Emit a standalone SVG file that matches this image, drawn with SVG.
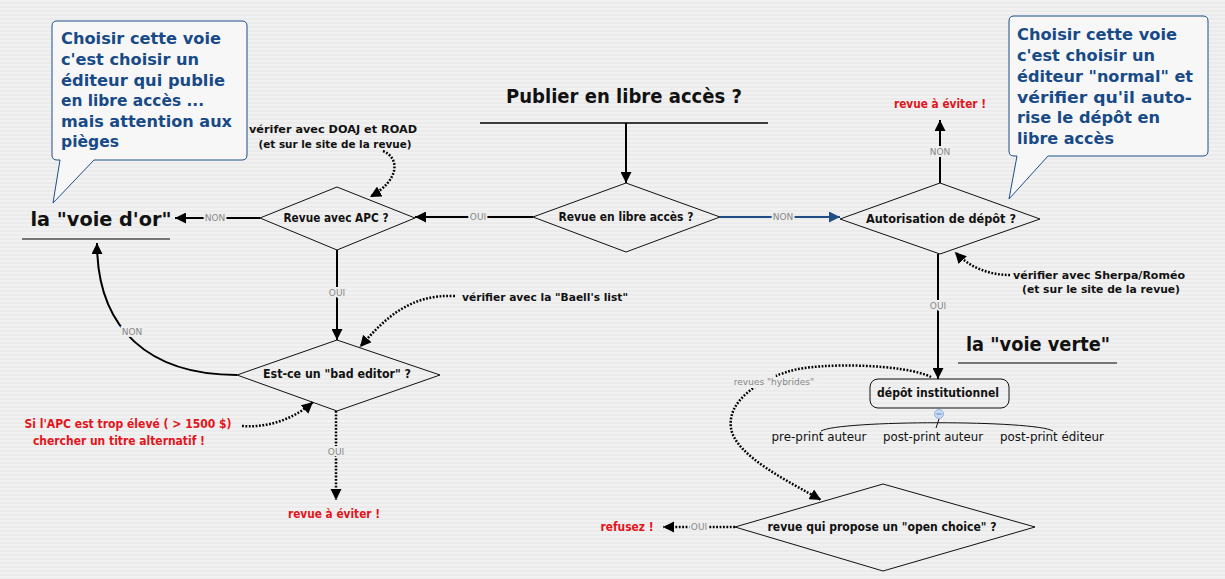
<svg xmlns="http://www.w3.org/2000/svg" width="1225" height="579" viewBox="0 0 1225 579">
<defs>
<pattern id="bg" width="4" height="4" patternUnits="userSpaceOnUse">
<rect width="4" height="4" fill="#f1f1f1"/>
<rect y="2" width="4" height="2" fill="#ebebeb"/>
</pattern>
<marker id="ah" viewBox="0 0 10 10" refX="10" refY="5" markerWidth="5.5" markerHeight="5.5" orient="auto" markerUnits="strokeWidth">
<path d="M0,0 L10,5 L0,10 Z" fill="#000"/>
</marker>
<marker id="ahb" viewBox="0 0 10 10" refX="10" refY="5" markerWidth="5.5" markerHeight="5.5" orient="auto" markerUnits="strokeWidth">
<path d="M0,0 L10,5 L0,10 Z" fill="#1f4e86"/>
</marker>
<marker id="ahd" viewBox="0 0 10 10" refX="10" refY="5" markerWidth="4.5" markerHeight="4.5" orient="auto" markerUnits="strokeWidth">
<path d="M0,0 L10,5 L0,10 Z" fill="#000"/>
</marker>
</defs>
<style>
text{font-family:"DejaVu Sans","Liberation Sans",sans-serif;}
.big{font-size:19px;font-weight:bold;fill:#111;}
.dia{fill:none;stroke:#111;stroke-width:1;}
.dt{font-size:12px;font-weight:bold;fill:#111;text-anchor:middle;}
.note{font-size:11px;font-weight:bold;fill:#111;text-anchor:middle;}
.red{font-size:11.5px;font-weight:bold;fill:#e3141b;text-anchor:middle;}
.lbl{font-size:9px;fill:#888;text-anchor:middle;stroke:#eeeeee;stroke-width:4px;paint-order:stroke;}
.call{fill:#f7f7f7;stroke:#1f4e86;stroke-width:1;}
.ct{font-size:16px;font-weight:bold;fill:#174a86;}
.sol{fill:none;stroke:#000;stroke-width:2;marker-end:url(#ah);}
.dot{fill:none;stroke:#000;stroke-width:2.5;stroke-dasharray:1.8 1.6;marker-end:url(#ahd);}
.reg{font-size:12.5px;fill:#111;text-anchor:middle;}
</style>
<rect width="1225" height="579" fill="url(#bg)"/>

<g id="connectors">
<path class="sol" d="M626,123 V183"/>
<path class="sol" d="M533,217 H415"/>
<path class="sol" d="M260,218 H175"/>
<path class="sol" d="M337,250 V340"/>
<path class="sol" d="M237,375 C150,375 97,330 97,243"/>
<path class="dot" d="M336,411 V500"/>
<path d="M720,217 H840" fill="none" stroke="#1f4e86" stroke-width="2" marker-end="url(#ahb)"/>
<path class="sol" d="M940,183 V120"/>
<path class="sol" d="M938,254 V379"/>
<path class="dot" d="M735,527 H663"/>
<path class="dot" d="M931,377 C905,364 820,362 790,371 C760,380 727,400 731,428 C735,456 790,482 821,500"/>
<path class="dot" d="M383,151 C400,158 400,180 370,197"/>
<path class="dot" d="M455,296 C410,294 385,318 360,347"/>
<path class="dot" d="M242,426 C270,428 295,418 313,402"/>
<path class="dot" d="M1010,275 C990,275 970,268 955,252"/>
<text class="lbl" x="478" y="220">OUI</text>
<text class="lbl" x="215" y="221">NON</text>
<text class="lbl" x="337" y="296">OUI</text>
<text class="lbl" x="132" y="335">NON</text>
<text class="lbl" x="336" y="455">OUI</text>
<text class="lbl" x="783" y="220">NON</text>
<text class="lbl" x="940" y="155">NON</text>
<text class="lbl" x="938" y="309">OUI</text>
<text class="lbl" x="699" y="530">OUI</text>
<text class="lbl" x="774" y="385" style="stroke-width:6px">revues "hybrides"</text>
</g>

<g id="title">
<text class="big" x="624" y="103" text-anchor="middle" textLength="236" lengthAdjust="spacingAndGlyphs">Publier en libre accès ?</text>
<line x1="480" y1="123" x2="768" y2="123" stroke="#000" stroke-width="1.5"/>
</g>

<g id="voie-or">
<text class="big" x="101" y="226" text-anchor="middle" textLength="141" lengthAdjust="spacingAndGlyphs">la "voie d'or"</text>
<line x1="22" y1="239" x2="170" y2="239" stroke="#000" stroke-width="1"/>
</g>

<g id="voie-verte">
<text class="big" x="1038" y="351" text-anchor="middle" textLength="144" lengthAdjust="spacingAndGlyphs">la "voie verte"</text>
<line x1="958" y1="363" x2="1117" y2="363" stroke="#000" stroke-width="1"/>
</g>

<g id="callout-left">
<path class="call" d="M57,21 H242 Q247,21 247,26 V155 Q247,160 242,160 H94 L53,203 L60,160 H57 Q52,160 52,155 V26 Q52,21 57,21 Z"/>
<text class="ct" x="61" y="44" textLength="160" lengthAdjust="spacingAndGlyphs">Choisir cette voie</text>
<text class="ct" x="61" y="65" textLength="138" lengthAdjust="spacingAndGlyphs">c'est choisir un</text>
<text class="ct" x="61" y="86" textLength="164" lengthAdjust="spacingAndGlyphs">éditeur qui publie</text>
<text class="ct" x="61" y="106" textLength="143" lengthAdjust="spacingAndGlyphs">en libre accès ...</text>
<text class="ct" x="61" y="127" textLength="171" lengthAdjust="spacingAndGlyphs">mais attention aux</text>
<text class="ct" x="61" y="147" textLength="58" lengthAdjust="spacingAndGlyphs">pièges</text>
</g>

<g id="callout-right">
<path class="call" d="M1014,16 H1203 Q1208,16 1208,21 V151 Q1208,156 1203,156 H1048 L1009,199 L1017,156 H1014 Q1009,156 1009,151 V21 Q1009,16 1014,16 Z"/>
<text class="ct" x="1017" y="40" textLength="160" lengthAdjust="spacingAndGlyphs">Choisir cette voie</text>
<text class="ct" x="1017" y="61" textLength="138" lengthAdjust="spacingAndGlyphs">c'est choisir un</text>
<text class="ct" x="1017" y="82" textLength="176" lengthAdjust="spacingAndGlyphs">éditeur "normal" et</text>
<text class="ct" x="1017" y="103" textLength="175" lengthAdjust="spacingAndGlyphs">vérifier qu'il auto-</text>
<text class="ct" x="1017" y="123" textLength="143" lengthAdjust="spacingAndGlyphs">rise le dépôt en</text>
<text class="ct" x="1017" y="144" textLength="97" lengthAdjust="spacingAndGlyphs">libre accès</text>
</g>

<g id="d-libre">
<path class="dia" d="M533,217 L626,183 L720,217 L626,252 Z"/>
<text class="dt" x="626" y="221" textLength="135" lengthAdjust="spacingAndGlyphs">Revue en libre accès ?</text>
</g>

<g id="d-apc">
<path class="dia" d="M260,218 L337,187 L415,218 L337,250 Z"/>
<text class="dt" x="336" y="222" textLength="105" lengthAdjust="spacingAndGlyphs">Revue avec APC ?</text>
</g>

<g id="d-bad">
<path class="dia" d="M237,375 L337,340 L440,375 L337,411 Z"/>
<text class="dt" x="337" y="378" textLength="148" lengthAdjust="spacingAndGlyphs">Est-ce un "bad editor" ?</text>
</g>

<g id="d-autorisation">
<path class="dia" d="M840,219 L940,183 L1040,219 L940,254 Z"/>
<text class="dt" x="941" y="223" textLength="150" lengthAdjust="spacingAndGlyphs">Autorisation de dépôt ?</text>
</g>

<g id="d-open">
<path class="dia" d="M735,527 L883,484 L1035,527 L883,571 Z"/>
<text class="dt" x="882" y="531" textLength="229" lengthAdjust="spacingAndGlyphs">revue qui propose un "open choice" ?</text>
</g>

<g id="depot">
<rect x="870" y="379" width="139" height="29" rx="8" fill="none" stroke="#111" stroke-width="1"/>
<text class="dt" x="938" y="397" textLength="122" lengthAdjust="spacingAndGlyphs">dépôt institutionnel</text>
<path d="M821,431 C840,420 1035,420 1053,431" fill="none" stroke="#111" stroke-width="1"/>
<path d="M939,419 L936,428" fill="none" stroke="#111" stroke-width="1"/>
<circle cx="939" cy="414" r="4.5" fill="#c8dbf3" stroke="#8fb1e0" stroke-width="1"/>
<line x1="936.5" y1="414" x2="941.5" y2="414" stroke="#5b86c8" stroke-width="1"/>
<text class="reg" x="819" y="441" textLength="95" lengthAdjust="spacingAndGlyphs">pre-print auteur</text>
<text class="reg" x="933" y="441" textLength="100" lengthAdjust="spacingAndGlyphs">post-print auteur</text>
<text class="reg" x="1052" y="441" textLength="104" lengthAdjust="spacingAndGlyphs">post-print éditeur</text>
</g>

<g id="note-doaj">
<text class="note" x="333" y="133" textLength="168" lengthAdjust="spacingAndGlyphs">vérifer avec DOAJ et ROAD</text>
<text class="note" x="335" y="148" textLength="153" lengthAdjust="spacingAndGlyphs">(et sur le site de la revue)</text>
</g>

<g id="note-baell">
<text class="note" x="545" y="301" textLength="166" lengthAdjust="spacingAndGlyphs">vérifier avec la "Baell's list"</text>
</g>

<g id="note-sherpa">
<text class="note" x="1099" y="279" textLength="172" lengthAdjust="spacingAndGlyphs">vérifier avec Sherpa/Roméo</text>
<text class="note" x="1101" y="293" textLength="158" lengthAdjust="spacingAndGlyphs">(et sur le site de la revue)</text>
</g>

<g id="note-apc">
<text class="red" x="128" y="428" textLength="207" lengthAdjust="spacingAndGlyphs">Si l'APC est trop élevé ( &gt; 1500 $)</text>
<text class="red" x="119" y="445" textLength="172" lengthAdjust="spacingAndGlyphs">chercher un titre alternatif !</text>
</g>

<g id="avoid-1">
<text class="red" x="334" y="518" textLength="92" lengthAdjust="spacingAndGlyphs">revue à éviter !</text>
</g>
<g id="avoid-2">
<text class="red" x="940" y="108" textLength="92" lengthAdjust="spacingAndGlyphs">revue à éviter !</text>
</g>
<g id="refusez">
<text class="red" x="627" y="531" textLength="53" lengthAdjust="spacingAndGlyphs">refusez !</text>
</g>
</svg>
